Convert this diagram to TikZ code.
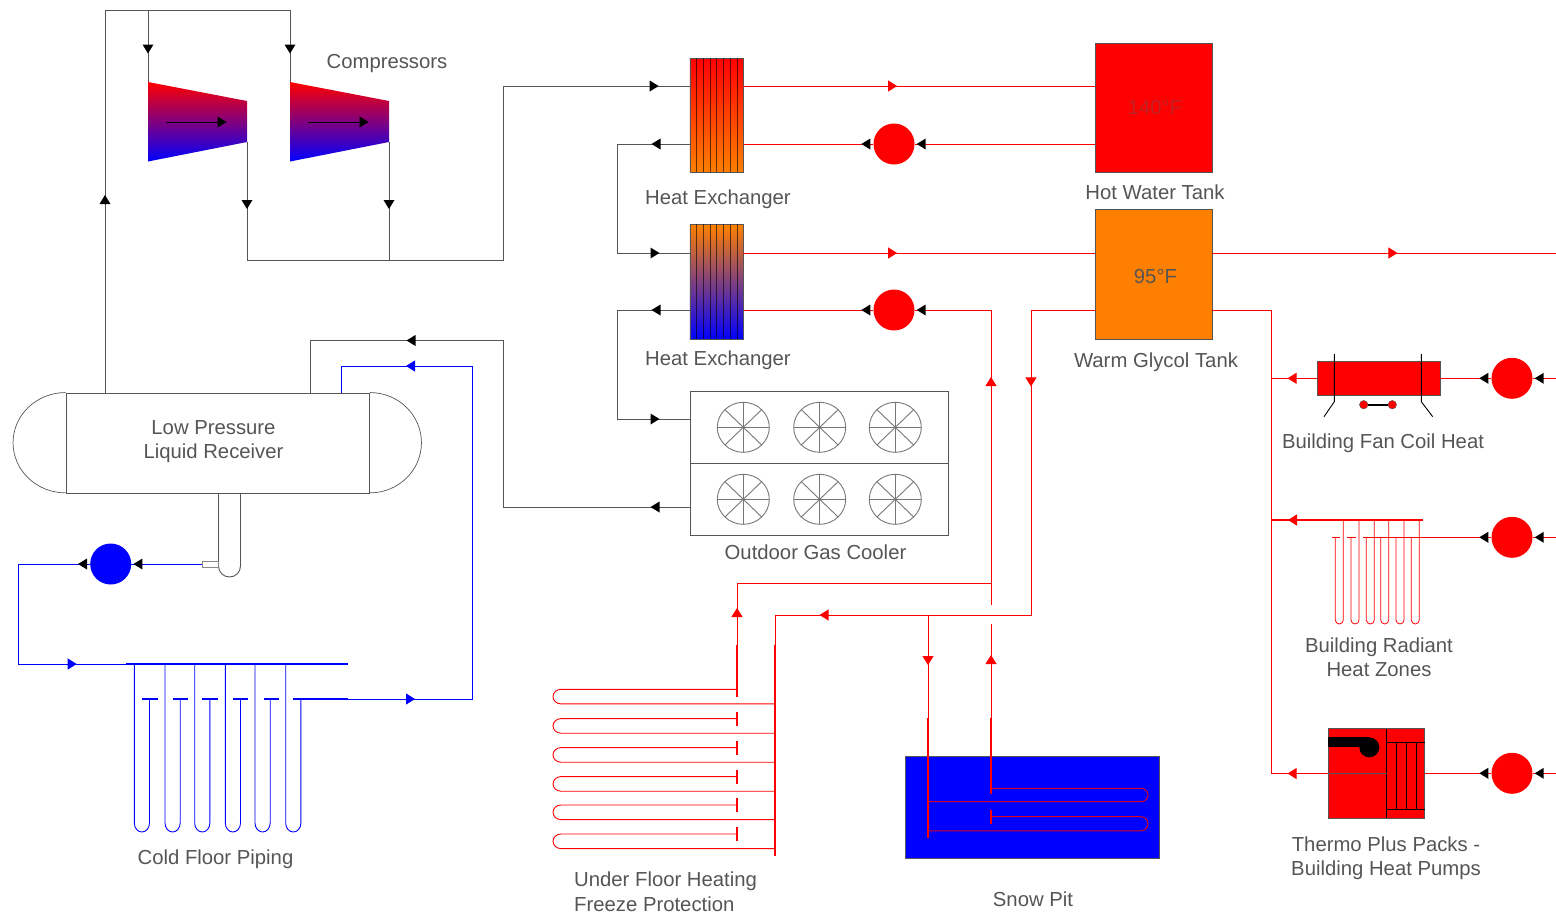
\documentclass[tikz,border=0pt]{standalone}
\usepackage{fontspec}
\setmainfont{Liberation Sans}
\usepackage{xcolor}
\definecolor{linegray}{RGB}{85,85,85}
\definecolor{labelgray}{RGB}{85,85,85}
\definecolor{tankorange}{RGB}{255,128,0}
\definecolor{coildark}{RGB}{215,0,30}
\usetikzlibrary{arrows.meta,decorations.markings}
\tikzset{
  flowtip/.tip={Triangle[length=9pt,width=11pt]},
  flow/.style={postaction={decorate,decoration={markings,mark=at position #1 with {\arrow{flowtip}}}}},
  blacktip/.style={postaction={decorate,decoration={markings,mark=at position #1 with {\fill[black] (-9pt,-5.5pt) -- (0pt,0pt) -- (-9pt,5.5pt) -- cycle;}}}},
  gaspipe/.style={draw=linegray, line width=0.9pt},
  redpipe/.style={draw=red, line width=0.9pt},
  bluepipe/.style={draw=blue, line width=0.9pt},
  header/.style={line width=2pt},
  textlabel/.style={font=\fontsize{20.3}{24.5}\selectfont, text=labelgray, inner sep=0pt, align=center},
  unitbox/.style={draw=linegray, line width=0.9pt, inner sep=0pt},
  pump/.style={circle, inner sep=0pt, minimum size=41pt},
  redpump/.style={pump, fill=red},
  bluepump/.style={pump, fill=blue},
  fan/.style={draw=linegray!80, line width=0.9pt},
}
\begin{document}
\begin{tikzpicture}[x=1pt,y=-1pt]
  \useasboundingbox (0,0) rectangle (1556,914);
  %% Tanks
  \node[unitbox, fill=red, minimum width=117pt, minimum height=129pt] (hwt) at (1153.5,107.5) {};
  \node[unitbox, fill=tankorange, minimum width=117pt, minimum height=130.5pt] (wgt) at (1153.5,274.25) {};
  %% Labels
  \node[textlabel] (lblcomp) at (387,63.5) {Compressors};
  \node[textlabel] (lblhxa) at (718,199.5) {Heat Exchanger};
  \node[textlabel] (lblhxb) at (718,360.5) {Heat Exchanger};
  \node[textlabel] (lblhwt) at (1155,192) {Hot Water Tank};
  \node[textlabel] (lblwgt) at (1156,362.5) {Warm Glycol Tank};
  \node[textlabel, text={rgb,255:red,190;green,35;blue,40}] (lblhot) at (1155,107.5) {140°F};
  \node[textlabel] (lblwarm) at (1155.5,276.5) {95°F};
  \node[textlabel] (lblrcv) at (213.5,441.5) {Low Pressure\\Liquid Receiver};
  \node[textlabel] (lblcooler) at (815.5,552) {Outdoor Gas Cooler};
  \node[textlabel] (lblcold) at (215.5,859) {Cold Floor Piping};
  \node[textlabel, align=left, anchor=west] (lbluf) at (574,891.5) {Under Floor Heating\\Freeze Protection};
  \node[textlabel] (lblsnow) at (1033,899) {Snow Pit};
  \node[textlabel] (lblfan) at (1383,443) {Building Fan Coil Heat};
  \node[textlabel] (lblrad) at (1379,657) {Building Radiant\\Heat Zones};
  \node[textlabel] (lblthermo) at (1386,858) {Thermo Plus Packs -\\Building Heat Pumps};
  %% Heat exchangers
  \node[unitbox, top color=red, bottom color=tankorange, minimum width=53.5pt, minimum height=114.3pt] (hxa) at (716.7,115.2) {};
  \node[unitbox, top color=tankorange, bottom color=blue, minimum width=53.5pt, minimum height=115.3pt] (hxb) at (716.7,281.7) {};
  \foreach \px in {696.7,703.4,710.1,716.7,723.4,730.1,736.8}{
    \draw[draw=black, opacity=0.6, line width=0.6pt] (\px,58) -- (\px,172.3);
    \draw[draw=black, opacity=0.6, line width=0.6pt] (\px,224) -- (\px,339.3);
  }
  %% Pumps
  \node[redpump] (pumpa) at (894,144) {};
  \node[redpump] (pumpb) at (894,310) {};
  \node[redpump] (pumpf) at (1512,378.3) {};
  \node[redpump] (pumpr) at (1512,537.3) {};
  \node[redpump] (pumpt) at (1512,773.3) {};
  \node[bluepump] (pumpc) at (110.7,564) {};
  %% Compressors
  \foreach \cname/\cx in {compa/148,compb/290}{
    \coordinate (\cname-in) at (\cx,82);
    \coordinate (\cname-out) at (\cx+99,142);
    \shade[top color=red, bottom color=blue] (\cname-in) -- (\cx+99,101) -- (\cname-out) -- (\cx,161.5) -- cycle;
    \draw[-flowtip, black, line width=0.5pt] (\cx+18,122) -- (\cx+78.5,122);
  }
  %% Receiver
  \node[unitbox, minimum width=303.5pt, minimum height=100.3pt] (rcv) at (217.75,443.15) {};
  \draw[draw=linegray, line width=0.7pt] (rcv.north west) arc[start angle=90,end angle=270,x radius=52.5pt,y radius=50.15pt];
  \draw[draw=linegray, line width=0.7pt] (rcv.north east) arc[start angle=90,end angle=-90,x radius=51.5pt,y radius=50.15pt];
  \coordinate (sumptop) at (218.5,493.3);
  \draw[unitbox] (sumptop) -- (218.5,566) arc[start angle=180,end angle=360,x radius=11pt,y radius=11pt] -- (240.5,493.3);
  \node[draw=linegray!70, line width=0.9pt, inner sep=0pt, minimum width=16.5pt, minimum height=6pt] (stub) at (210.25,564) {};
  %% Gas cooler
  \node[unitbox, minimum width=258.5pt, minimum height=144.7pt] (cooler) at (819.2,463.3) {};
  \draw[gaspipe] (cooler.west) -- (cooler.east);
  \foreach \fx in {743.3,819.7,895.3}{
    \foreach \fy in {427.3,499.3}{
      \draw[fan] (\fx,\fy) ellipse[x radius=26pt,y radius=25pt];
      \foreach \fa in {0,45,...,315}{
        \draw[fan] (\fx,\fy) -- +(\fa:26pt and 25pt);
      }
    }
  }
  %% Gas and liquid lines
  \coordinate (rcvgas) at (105,393);
  \coordinate (rcvliq) at (310,393);
  \draw[gaspipe, blacktip=198pt, blacktip=610.5pt] (rcvgas) -- (105,10.5) -- (290,10.5) -- (compb-in);
  \draw[gaspipe, blacktip=43pt] (148,10.5) -- (compa-in);
  \draw[gaspipe, blacktip=67pt, blacktip=703.7pt] (compa-out) -- (247,260) -- (503,260) -- (503,86) -- (690,86);
  \draw[gaspipe, blacktip=67pt] (compb-out) -- (389,260);
  \draw[gaspipe, blacktip=38pt, blacktip=223pt] (hxa.west |- pumpa) -- (617.5,144) -- (617.5,253) -- (690,253);
  \draw[gaspipe, blacktip=38pt, blacktip=223pt] (hxb.west |- pumpb) -- (617.5,310) -- (617.5,419) -- (cooler.west |- 0,419);
  \draw[gaspipe, blacktip=39pt, blacktip=449.5pt] (cooler.west |- 0,507) -- (503,507) -- (503,340.5) -- (310,340.5) -- (rcvliq);
  %% Hot side
  \draw[redpipe, flow=153.7pt] (743.4,86) -- (hwt.west |- 0,86);
  \draw[redpipe, blacktip=-2pt] (hwt.west |- pumpa) -- (pumpa);
  \draw[redpipe, blacktip=12pt] (pumpa) -- (hxa.east |- pumpa);
  \draw[redpipe, flow=153.7pt] (743.4,253) -- (wgt.west |- 0,253);
  \draw[redpipe, flow=185pt] (wgt.east |- 0,253) -- (1556,253);
  \draw[redpipe, blacktip=12pt] (pumpb) -- (hxb.east |- pumpb);
  \draw[redpipe, flow=228pt, blacktip=-2pt] (991,605) -- (991,310) -- (pumpb);
  \draw[redpipe, flow=140pt, flow=580pt] (wgt.west |- pumpb) -- (1031,310) -- (1031,615) -- (775,615) -- (775,645);
  \draw[redpipe, flow=89pt] (737,697) -- (737,583) -- (991,583);
  \draw[redpipe, flow=139pt] (991,794) -- (991,624);
  \draw[redpipe, flow=50pt] (928,615) -- (928,718);
  \draw[redpipe, header] (737,645) -- (737,697);
  \draw[redpipe, header] (775,645) -- (775,856);
  %% Under floor coils
  \foreach \uy in {689.3,718.6,747.6,776.6,805,834}{
    \draw[redpipe] (737,\uy) -- (561,\uy) arc[start angle=90,end angle=270,x radius=8pt,y radius=7.3pt] -- (775,\uy+14.6);
  }
  \foreach \uy in {718.6,747.6,776.6,805,834}{
    \draw[redpipe, header] (737,\uy-7) -- (737,\uy+7);
  }
  %% Snow pit
  \node[unitbox, fill=blue, minimum width=254pt, minimum height=102pt] (snow) at (1032,807) {};
  \draw[redpipe, header] (928,718) -- (928,838);
  \draw[redpipe, header] (991,718) -- (991,794);
  \draw[draw=coildark, line width=1pt] (991,788.3) -- (1141,788.3) arc[start angle=90,end angle=-90,x radius=7pt,y radius=6.7pt] -- (928,801.7);
  \draw[draw=coildark, line width=1pt] (991,816.7) -- (1141,816.7) arc[start angle=90,end angle=-90,x radius=7pt,y radius=7.1pt] -- (928,830.9);
  \draw[redpipe, header] (991,810) -- (991,823.6);
  %% Building loads
  \node[unitbox, fill=red, minimum width=123pt, minimum height=33.3pt] (fcu) at (1378.5,378.3) {};
  \draw[black, line width=0.9pt] (1334.3,354) -- (1334.3,401.7) -- (1324,416.7);
  \draw[black, line width=0.9pt] (1421.3,354) -- (1421.3,401.7) -- (1432.7,416.7);
  \node[circle, draw=linegray, fill=red, inner sep=0pt, minimum size=8.5pt] (valvea) at (1363.7,404.7) {};
  \node[circle, draw=linegray, fill=red, inner sep=0pt, minimum size=8.5pt] (valveb) at (1392.3,404.7) {};
  \draw[black, line width=1.6pt] (valvea) -- (valveb);
  \node[unitbox, fill=red, minimum width=96.4pt, minimum height=89.6pt] (tpk) at (1376.5,773.5) {};
  \draw[black, line width=0.9pt] (1386.7,728.7) -- (1386.7,818.3);
  \draw[black, line width=0.9pt] (1386.7,742.3) -- (1424.7,742.3);
  \draw[black, line width=0.9pt] (1386.7,809.3) -- (1424.7,809.3);
  \foreach \tx in {1396.7,1406.3,1416}{
    \draw[black, line width=0.9pt] (\tx,742.3) -- (\tx,809.3);
  }
  \fill[black] (1328.3,737.3) rectangle (1369,746.7);
  \fill[black] (1369.3,747.3) circle[radius=10pt];
  \draw[draw=linegray, line width=0.7pt] (tpk.west) -- (tpk.west -| 1386.7,0);
  %% Return to glycol tank
  \draw[redpipe] (wgt.east |- pumpb) -- (1271,310) -- (1271,773.3);
  \draw[redpipe, flow=29pt] (fcu.west) -- (1271,378.3);
  \draw[redpipe, line width=1.3pt, flow=135pt] (1423,520) -- (1271,520);
  \draw[redpipe, flow=40.3pt] (tpk.west) -- (1271,773.5);
  %% Pump lines
  \coordinate (edgef) at (1556,378.3);
  \coordinate (edger) at (1556,537.3);
  \coordinate (edget) at (1556,773.3);
  \draw[redpipe, blacktip=-2pt] (edgef) -- (pumpf);
  \draw[redpipe, blacktip=12pt] (pumpf) -- (fcu.east);
  \draw[redpipe, blacktip=-2pt] (edger) -- (pumpr);
  \draw[redpipe, blacktip=12pt] (pumpr) -- (1362.7,537.3);
  \draw[redpipe, blacktip=-2pt] (edget) -- (pumpt);
  \draw[redpipe, blacktip=12pt] (pumpt) -- (tpk.east |- pumpt);
  %% Radiant tubes
  \foreach \rx in {1343.3,1359,1374.3,1388.7,1404,1419.3}{
    \draw[draw=red, line width=0.8pt] (\rx,520) -- (\rx,620) arc[start angle=0,end angle=-180,x radius=4pt,y radius=4pt] -- (\rx-8,537.3);
  }
  \foreach \rx in {1332,1347.3}{
    \draw[redpipe] (\rx,537.3) -- +(8.2,0);
  }
  %% Cold floor
  \draw[bluepipe, blacktip=-2pt] (stub.west) -- (pumpc);
  \draw[bluepipe, blacktip=12pt, flow=230.7pt] (pumpc) -- (18,564) -- (18,664) -- (126,664);
  \draw[bluepipe, header] (126,663.5) -- (348,663.5);
  \draw[bluepipe, header] (293.3,699) -- (348,699);
  \coordinate (rcvcold) at (341,393);
  \draw[bluepipe, flow=67pt, flow=523pt] (348,699) -- (472,699) -- (472,366) -- (341,366) -- (rcvcold);
  \foreach \ox in {134.3,165,194.7,225.3,255,285.7}{
    \draw[bluepipe] (\ox,663.5) -- (\ox,823) arc[start angle=180,end angle=360,x radius=7.6pt,y radius=9pt] -- (\ox+15.2,699);
  }
  \foreach \dx in {142.3,173,202.3,233,263.7}{
    \draw[bluepipe, line width=1.5pt] (\dx,699) -- +(15.2,0);
  }
\end{tikzpicture}
\end{document}
